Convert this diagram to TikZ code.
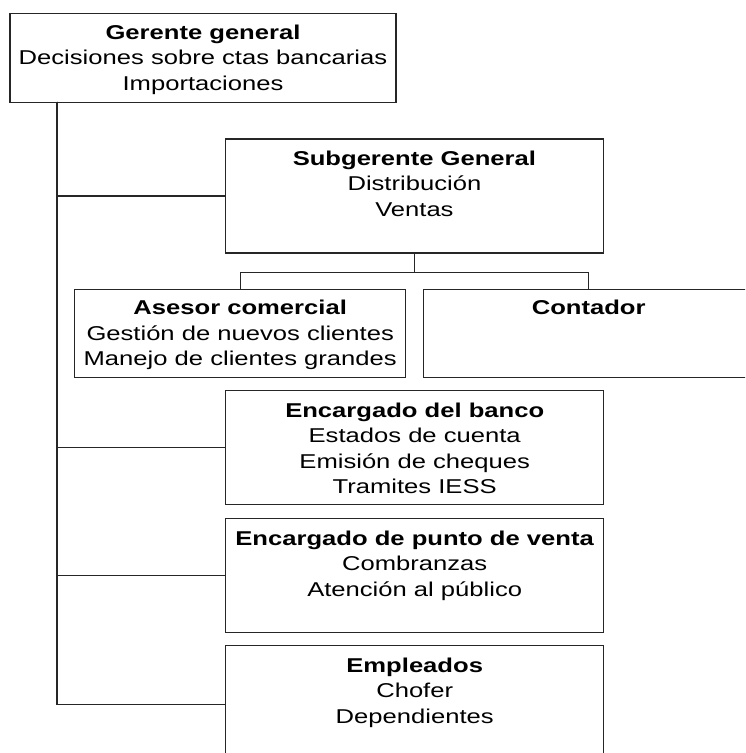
\documentclass[tikz,border=0pt]{standalone}
\usepackage{fontspec}
\setmainfont{Liberation Sans}[FakeStretch=1.28]
\begin{document}
\begin{tikzpicture}[x=1pt,y=-1pt,
  box/.style={draw=black!85, line width=1.4pt, rectangle, inner sep=0pt, anchor=north west},
  txt/.style={align=center, inner sep=0pt, anchor=north, font=\fontsize{20}{25.5}\selectfont},
  link/.style={draw=black!85, line width=1.3pt}]
\useasboundingbox (0,0) rectangle (745,753);
\clip (0,0) rectangle (745,753);

% boxes
\node[box, minimum width=386pt, minimum height=89pt] (gg) at (9.3,12.7) {};
\node[box, minimum width=378pt, minimum height=114pt] (sg) at (224.7,138.3) {};
\node[box, minimum width=331pt, minimum height=88pt] (as) at (74,289) {};
\node[box, minimum width=330pt, minimum height=88pt] (co) at (423,289) {};
\node[box, minimum width=378pt, minimum height=114pt] (eb) at (225,390) {};
\node[box, minimum width=378pt, minimum height=114pt] (pv) at (225,518) {};
\node[box, minimum width=378pt, minimum height=118pt] (em) at (225,645) {};

% texts
\node[txt] (gg-t) at ([yshift=-11.7pt]gg.north) {\textbf{Gerente general}\\Decisiones sobre ctas bancarias\\Importaciones};
\node[txt] (sg-t) at ([yshift=-12.4pt]sg.north) {\textbf{Subgerente General}\\Distribución\\Ventas};
\node[txt] (as-t) at ([yshift=-11.2pt]as.north) {\textbf{Asesor comercial}\\Gestión de nuevos clientes\\Manejo de clientes grandes};
\node[txt] (co-t) at ([yshift=-11.2pt]co.north) {\textbf{Contador}};
\node[txt] (eb-t) at ([yshift=-12.4pt]eb.north) {\textbf{Encargado del banco}\\Estados de cuenta\\Emisión de cheques\\Tramites IESS};
\node[txt] (pv-t) at ([yshift=-12.4pt]pv.north) {\textbf{Encargado de punto de venta}\\Combranzas\\Atención al público};
\node[txt] (em-t) at ([yshift=-12.4pt]em.north) {\textbf{Empleados}\\Chofer\\Dependientes};

% connectors
\coordinate (trunk) at (57,101.5);
\draw[link] (trunk) |- (sg.west);
\draw[link] (trunk) |- (eb.west);
\draw[link] (trunk) |- (pv.west);
\draw[link] (trunk) |- (em.west);
\draw[link] (sg.south) -- ++(0,19) coordinate (bus);
\draw[link] (as.north) |- (bus) -| (co.north);
\end{tikzpicture}
\end{document}
